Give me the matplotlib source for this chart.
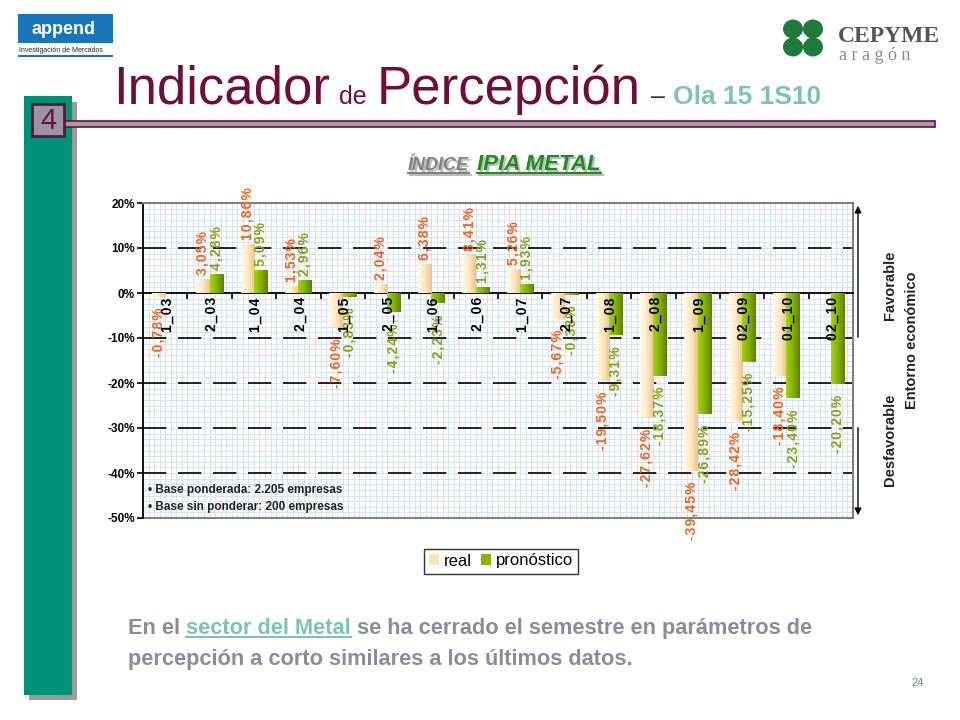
import numpy as np
import matplotlib
matplotlib.use('Agg')
import matplotlib.pyplot as plt
from matplotlib.patches import Rectangle, Ellipse, FancyArrowPatch
from matplotlib.lines import Line2D
from matplotlib.colors import LinearSegmentedColormap

plt.rcParams['font.family'] = ['Liberation Sans', 'DejaVu Sans']

# datos del grafico (IPIA metal)
periodos = ['1_03', '2_03', '1_04', '2_04', '1_05', '2_05', '1_06', '2_06',
            '1_07', '2_07', '1_08', '2_08', '1_09', '02_09', '01_10', '02_10']
real = [-0.78, 3.05, 10.86, 1.53, -7.60, 2.04, 6.38, 8.41,
        5.26, -5.67, -19.50, -27.62, -39.45, -28.42, -18.40, np.nan]
pronostico = [np.nan, 4.28, 5.09, 2.96, -0.83, -4.24, -2.23, 1.31,
              1.93, -0.38, -9.31, -18.37, -26.89, -15.25, -23.40, -20.20]
y_ticks = [20, 10, 0, -10, -20, -30, -40, -50]
lineas_ref = [10, -10, -20, -30, -40]

MARRON = '#6E0E3E'
TEAL = '#7CC3B4'
NARANJA = '#F0641E'
OLIVA = '#86A01A'
ESP = '\u200a'  # espaciado entre letras de las etiquetas

fig = plt.figure(figsize=(9.6, 7.2), dpi=100)
fig.patch.set_facecolor('white')


def rect(x0, y0, x1, y1, **kw):
    # rectangulo en pixeles de la diapositiva (origen arriba a la izquierda)
    r = Rectangle((x0 / 960, 1 - y1 / 720), (x1 - x0) / 960, (y1 - y0) / 720,
                  transform=fig.transFigure, **kw)
    fig.add_artist(r)
    return r


def ftext(x, y, s, **kw):
    return fig.text(x / 960, 1 - y / 720, s, **kw)


# barra verde lateral con sombra
rect(29, 102, 77, 700, facecolor='#9A9A9A', edgecolor='none', zorder=0)
rect(24, 96, 72, 695, facecolor='#00917A', edgecolor='none', zorder=1)
# linea horizontal del titulo
rect(64, 121, 935, 127, facecolor='#A89CA8', edgecolor=MARRON, lw=1.2, zorder=2)
# caja del numero
rect(32, 104, 64, 136, facecolor='#9D93A8', edgecolor=MARRON, lw=2, zorder=3)
ftext(48, 121, '4', color=MARRON, fontsize=21, ha='center', va='center', zorder=4)

# logo append
rect(18, 14, 113, 43, facecolor='#1B75BB', edgecolor='none')
ftext(63, 29, 'append', color='white', fontsize=13, fontweight='bold', ha='center', va='center')
ftext(19, 50, 'Investigación de Mercados', color='#222222', fontsize=5, va='center')
rect(18, 55, 113, 57, facecolor='#1B75BB', edgecolor='none')

# logo cepyme (trebol aproximado)
cx, cy = 803, 38
for dx, dy in [(-10, -9), (10, -9), (-10, 9), (10, 9)]:
    fig.add_artist(Ellipse(((cx + dx) / 960, 1 - (cy + dy) / 720), 20 / 960, 19 / 720,
                           transform=fig.transFigure, facecolor='#1F7A3C', edgecolor='none'))
fig.add_artist(Ellipse((cx / 960, 1 - cy / 720), 8 / 960, 8 / 720,
                       transform=fig.transFigure, facecolor='white', edgecolor='none'))
ftext(838, 42, 'CEPYME', family='Liberation Serif', fontsize=17, fontweight='bold',
      color='#555555', va='baseline')
ftext(839, 60, 'a r a g ó n', family='Liberation Serif', fontsize=13,
      color='#8A8A8A', va='baseline')

fig.canvas.draw()
rend = fig.canvas.get_renderer()


def cadena(partes, x0, y0):
    # dibuja trozos de texto seguidos sobre la misma linea base
    x = x0
    res = []
    for s, gap, kw in partes:
        t = ftext(x, y0, s, va='baseline', **kw)
        bb = t.get_window_extent(renderer=rend)
        res.append(bb)
        x = bb.x1 + gap
    return res


# titulo
cadena([('Indicador', 9, dict(color=MARRON, fontsize=38)),
        ('de', 10, dict(color=MARRON, fontsize=18)),
        ('Percepción', 10, dict(color=MARRON, fontsize=38)),
        ('–', 8, dict(color=MARRON, fontsize=18)),
        ('Ola 15 1S10', 0, dict(color=TEAL, fontsize=19, fontweight='bold'))], 113, 104)

# subtitulo con sombra y subrayado
for sx, sy, col1, col2 in [(2, 2, '#BBBBBB', '#BBBBBB'), (0, 0, '#808080', '#1E8C1E')]:
    bbs = cadena([('ÍNDICE', 8, dict(color=col1, fontsize=13, fontweight='bold', style='italic')),
                  ('IPIA METAL', 0, dict(color=col2, fontsize=16, fontweight='bold', style='italic'))],
                 408 + sx, 170 + sy)
    for bb, col in zip(bbs, [col1, col2]):
        yl = (720 - 173 - sy) / 720
        fig.add_artist(Line2D([bb.x0 / 960, bb.x1 / 960], [yl, yl], transform=fig.transFigure,
                              color=col, lw=1.5))

# texto inferior
GRIS = '#8A8AA0'
TAM = 15.7
bbs = cadena([('En el', 6, dict(color=GRIS, fontsize=TAM, fontweight='bold')),
              ('sector del Metal', 6, dict(color=TEAL, fontsize=TAM, fontweight='bold')),
              ('se ha cerrado el semestre en parámetros de', 0,
               dict(color=GRIS, fontsize=TAM, fontweight='bold'))], 128, 634)
b = bbs[1]
fig.add_artist(Line2D([b.x0 / 960, b.x1 / 960], [(720 - 637) / 720] * 2, transform=fig.transFigure,
                      color=TEAL, lw=1.5))
ftext(128, 665, 'percepción a corto similares a los últimos datos.', color=GRIS,
      fontsize=TAM, fontweight='bold', va='baseline')
ftext(918, 683, '24', color='#3A9A9A', fontsize=8, ha='center', va='center')

# ---- grafico ----
ax = fig.add_axes([143 / 960, 1 - 518 / 720, 710 / 960, 315 / 720])
x = np.arange(len(periodos))
w = 0.3
b_real = ax.bar(x - w / 2, real, w, color='#FBE5B8', zorder=3, label='real')
b_pron = ax.bar(x + w / 2, pronostico, w, color='#86B300', zorder=3, label='pronóstico')


def gradiente(barras, colores):
    cmap = LinearSegmentedColormap.from_list('g', colores)
    grad = np.linspace(0, 1, 64).reshape(1, -1)
    for bb in barras:
        h = bb.get_height()
        if np.isnan(h) or h == 0:
            continue
        x0 = bb.get_x()
        y0, y1 = sorted([bb.get_y(), bb.get_y() + h])
        im = ax.imshow(grad, extent=[x0, x0 + bb.get_width(), y0, y1], aspect='auto',
                       cmap=cmap, zorder=3.5, origin='lower', interpolation='bilinear')
        im.set_clip_path(bb)


gradiente(b_real, ['#FFFBEE', '#FCE9C2', '#F2C288'])
gradiente(b_pron, ['#A6D21A', '#86B000', '#5E8000'])

for v in lineas_ref:
    ax.axhline(v, color='black', lw=1.2, linestyle=(0, (14, 7)), zorder=2)
ax.axhline(-50, color='#808080', lw=1.5, clip_on=False, zorder=2)


def espaciar(s):
    return ESP.join(s)


def etiquetas(valores, dx, color):
    for xi, v in zip(x, valores):
        if np.isnan(v):
            continue
        txt = espaciar(f'{v:.2f}%'.replace('.', ','))
        if v >= 0:
            off, va = 3, 'bottom'
        else:
            off, va = -8, 'top'
        ax.annotate(txt, (xi + dx, v), xytext=(0, off), textcoords='offset points',
                    rotation=90, ha='center', va=va, color=color, fontsize=10,
                    fontweight='bold', zorder=6)


etiquetas(real, -w / 2, NARANJA)
etiquetas(pronostico, w / 2, OLIVA)

for xi, p in zip(x, periodos):
    ax.annotate(espaciar(p), (xi, 0), xytext=(1.5, -3), textcoords='offset points', rotation=90,
                ha='center', va='top', fontsize=10, fontweight='bold', color='black', zorder=7)

ax.set_xlim(-0.5, len(periodos) - 0.5)
ax.set_ylim(-50, 20)
ax.set_yticks(y_ticks)
ax.set_yticklabels([f'{t}%' for t in y_ticks], fontsize=8.5, fontweight='bold')
ax.set_yticks(np.arange(-50, 20.01, 1.25), minor=True)
ax.set_xticks(np.arange(-0.5, len(periodos), 1))
ax.set_xticklabels([])
ax.set_xticks(np.arange(-0.5, len(periodos) - 0.4, 0.125), minor=True)
ax.tick_params(axis='x', which='major', length=4, width=1.2, direction='out')
ax.tick_params(axis='y', which='major', length=4, width=1.2, direction='out', pad=2)
ax.tick_params(which='minor', length=0)
ax.set_axisbelow(True)
ax.grid(True, which='both', color='#D3E2F4', lw=0.7)

ax.spines['bottom'].set_position(('data', 0))
ax.spines['bottom'].set_color('black')
ax.spines['bottom'].set_linewidth(1.3)
ax.spines['left'].set_color('black')
ax.spines['left'].set_linewidth(1.3)
for s in ['top', 'right']:
    ax.spines[s].set_color('#808080')
    ax.spines[s].set_linewidth(1.5)

ax.text(0.007, 0.089, '• Base ponderada: 2.205 empresas', transform=ax.transAxes,
        fontsize=8.5, fontweight='bold', va='center', color='#222222', zorder=8)
ax.text(0.007, 0.035, '• Base sin ponderar: 200 empresas', transform=ax.transAxes,
        fontsize=8.5, fontweight='bold', va='center', color='#222222', zorder=8)

leg = fig.legend(handles=[b_real, b_pron], loc='center', bbox_to_anchor=(501 / 960, 1 - 561 / 720),
                 ncol=2, fontsize=12, frameon=True, fancybox=False, handlelength=0.6,
                 handleheight=0.6, handletextpad=0.3, columnspacing=0.5, borderpad=0.3)
leg.get_frame().set_edgecolor('black')
leg.get_frame().set_linewidth(1)

# flechas del entorno economico
fig.add_artist(FancyArrowPatch((858 / 960, 1 - 340 / 720), (858 / 960, 1 - 203 / 720),
                               transform=fig.transFigure, arrowstyle='-|>', mutation_scale=10,
                               color='black', lw=1))
fig.add_artist(FancyArrowPatch((858 / 960, 1 - 425 / 720), (858 / 960, 1 - 518 / 720),
                               transform=fig.transFigure, arrowstyle='-|>', mutation_scale=10,
                               color='black', lw=1))
ftext(890, 285, 'Favorable', rotation=90, ha='center', va='center', fontsize=10.5,
      fontweight='bold', color='#222222')
ftext(890, 440, 'Desfavorable', rotation=90, ha='center', va='center', fontsize=10.5,
      fontweight='bold', color='#222222')
ftext(912, 340, 'Entorno económico', rotation=90, ha='center', va='center', fontsize=10.5,
      fontweight='bold', color='#222222')

fig.savefig('out.png', dpi=100)
